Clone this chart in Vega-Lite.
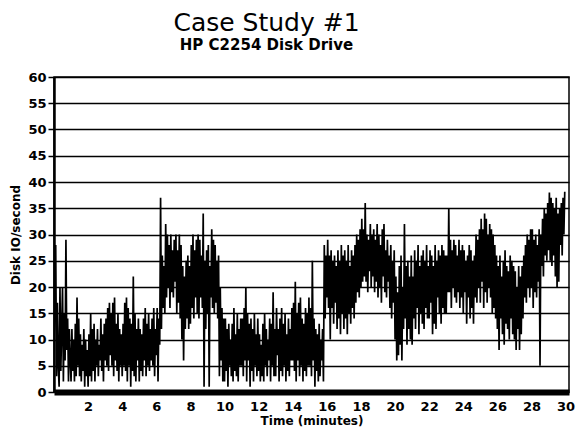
{
  "$schema": "https://vega.github.io/schema/vega-lite/v6.json",
  "width": 515,
  "height": 315,
  "autosize": {"type": "none"},
  "padding": {"left": 54, "top": 77, "right": 9, "bottom": 43},
  "background": "white",
  "title": {
    "text": "Case Study #1",
    "subtitle": "HP C2254 Disk Drive",
    "anchor": "middle",
    "dx": -45,
    "offset": 18,
    "font": "DejaVu Sans",
    "fontSize": 25,
    "fontWeight": "normal",
    "color": "black",
    "subtitleFont": "DejaVu Sans",
    "subtitleFontSize": 15,
    "subtitleFontWeight": "bold",
    "subtitleColor": "black",
    "subtitlePadding": 2
  },
  "config": {
    "view": {"stroke": "black", "strokeWidth": 1.5},
    "axis": {
      "labelFont": "DejaVu Sans",
      "labelFontWeight": "bold",
      "labelColor": "black",
      "titleFont": "DejaVu Sans",
      "titleFontWeight": "bold",
      "titleColor": "black"
    }
  },
  "data": {
    "values": [
      {"t":0.00,"v":10},{"t":0.05,"v":16},{"t":0.10,"v":28},{"t":0.15,"v":3},{"t":0.20,"v":17},{"t":0.25,"v":5},{"t":0.30,"v":1},{"t":0.35,"v":20},{"t":0.40,"v":4},{"t":0.45,"v":12},{"t":0.50,"v":20},{"t":0.55,"v":2},{"t":0.60,"v":15},{"t":0.65,"v":6},{"t":0.70,"v":29},{"t":0.75,"v":8},{"t":0.80,"v":14},{"t":0.85,"v":2},{"t":0.90,"v":12},{"t":0.95,"v":6},
      {"t":1.00,"v":2},{"t":1.05,"v":12},{"t":1.10,"v":4},{"t":1.15,"v":10},{"t":1.20,"v":2},{"t":1.25,"v":13},{"t":1.30,"v":3},{"t":1.35,"v":18},{"t":1.40,"v":5},{"t":1.45,"v":14},{"t":1.50,"v":3},{"t":1.55,"v":11},{"t":1.60,"v":2},{"t":1.65,"v":9},{"t":1.70,"v":4},{"t":1.75,"v":12},{"t":1.80,"v":1},{"t":1.85,"v":10},{"t":1.90,"v":3},{"t":1.95,"v":8},
      {"t":2.00,"v":1},{"t":2.05,"v":11},{"t":2.10,"v":3},{"t":2.15,"v":15},{"t":2.20,"v":2},{"t":2.25,"v":12},{"t":2.30,"v":4},{"t":2.35,"v":13},{"t":2.40,"v":2},{"t":2.45,"v":10},{"t":2.50,"v":5},{"t":2.55,"v":12},{"t":2.60,"v":3},{"t":2.65,"v":9},{"t":2.70,"v":6},{"t":2.75,"v":14},{"t":2.80,"v":4},{"t":2.85,"v":11},{"t":2.90,"v":2},{"t":2.95,"v":13},
      {"t":3.00,"v":6},{"t":3.05,"v":14},{"t":3.10,"v":5},{"t":3.15,"v":16},{"t":3.20,"v":4},{"t":3.25,"v":17},{"t":3.30,"v":7},{"t":3.35,"v":15},{"t":3.40,"v":5},{"t":3.45,"v":17},{"t":3.50,"v":3},{"t":3.55,"v":18},{"t":3.60,"v":6},{"t":3.65,"v":13},{"t":3.70,"v":4},{"t":3.75,"v":15},{"t":3.80,"v":2},{"t":3.85,"v":12},{"t":3.90,"v":5},{"t":3.95,"v":11},
      {"t":4.00,"v":3},{"t":4.05,"v":13},{"t":4.10,"v":5},{"t":4.15,"v":17},{"t":4.20,"v":4},{"t":4.25,"v":18},{"t":4.30,"v":2},{"t":4.35,"v":16},{"t":4.40,"v":5},{"t":4.45,"v":14},{"t":4.50,"v":1},{"t":4.55,"v":13},{"t":4.60,"v":4},{"t":4.65,"v":22},{"t":4.70,"v":3},{"t":4.75,"v":15},{"t":4.80,"v":2},{"t":4.85,"v":12},{"t":4.90,"v":6},{"t":4.95,"v":14},
      {"t":5.00,"v":2},{"t":5.05,"v":12},{"t":5.10,"v":4},{"t":5.15,"v":11},{"t":5.20,"v":3},{"t":5.25,"v":14},{"t":5.30,"v":6},{"t":5.35,"v":16},{"t":5.40,"v":3},{"t":5.45,"v":13},{"t":5.50,"v":5},{"t":5.55,"v":15},{"t":5.60,"v":4},{"t":5.65,"v":12},{"t":5.70,"v":6},{"t":5.75,"v":14},{"t":5.80,"v":5},{"t":5.85,"v":16},{"t":5.90,"v":3},{"t":5.95,"v":12},
      {"t":6.00,"v":7},{"t":6.05,"v":16},{"t":6.10,"v":2},{"t":6.15,"v":14},{"t":6.20,"v":9},{"t":6.25,"v":37},{"t":6.30,"v":12},{"t":6.35,"v":26},{"t":6.40,"v":16},{"t":6.45,"v":24},{"t":6.50,"v":15},{"t":6.55,"v":32},{"t":6.60,"v":18},{"t":6.65,"v":30},{"t":6.70,"v":20},{"t":6.75,"v":28},{"t":6.80,"v":16},{"t":6.85,"v":30},{"t":6.90,"v":19},{"t":6.95,"v":27},
      {"t":7.00,"v":18},{"t":7.05,"v":29},{"t":7.10,"v":21},{"t":7.15,"v":30},{"t":7.20,"v":15},{"t":7.25,"v":27},{"t":7.30,"v":17},{"t":7.35,"v":30},{"t":7.40,"v":14},{"t":7.45,"v":28},{"t":7.50,"v":10},{"t":7.55,"v":24},{"t":7.60,"v":6},{"t":7.65,"v":22},{"t":7.70,"v":12},{"t":7.75,"v":25},{"t":7.80,"v":14},{"t":7.85,"v":26},{"t":7.90,"v":12},{"t":7.95,"v":24},
      {"t":8.00,"v":13},{"t":8.05,"v":28},{"t":8.10,"v":16},{"t":8.15,"v":30},{"t":8.20,"v":14},{"t":8.25,"v":27},{"t":8.30,"v":18},{"t":8.35,"v":29},{"t":8.40,"v":15},{"t":8.45,"v":30},{"t":8.50,"v":14},{"t":8.55,"v":29},{"t":8.60,"v":18},{"t":8.65,"v":26},{"t":8.70,"v":16},{"t":8.75,"v":34},{"t":8.80,"v":1},{"t":8.85,"v":25},{"t":8.90,"v":12},{"t":8.95,"v":27},
      {"t":9.00,"v":15},{"t":9.05,"v":28},{"t":9.10,"v":1},{"t":9.15,"v":24},{"t":9.20,"v":18},{"t":9.25,"v":31},{"t":9.30,"v":16},{"t":9.35,"v":29},{"t":9.40,"v":15},{"t":9.45,"v":28},{"t":9.50,"v":17},{"t":9.55,"v":25},{"t":9.60,"v":14},{"t":9.65,"v":26},{"t":9.70,"v":3},{"t":9.75,"v":20},{"t":9.80,"v":6},{"t":9.85,"v":16},{"t":9.90,"v":2},{"t":9.95,"v":14},
      {"t":10.00,"v":2},{"t":10.05,"v":14},{"t":10.10,"v":4},{"t":10.15,"v":12},{"t":10.20,"v":1},{"t":10.25,"v":13},{"t":10.30,"v":5},{"t":10.35,"v":10},{"t":10.40,"v":3},{"t":10.45,"v":13},{"t":10.50,"v":2},{"t":10.55,"v":16},{"t":10.60,"v":4},{"t":10.65,"v":11},{"t":10.70,"v":3},{"t":10.75,"v":15},{"t":10.80,"v":2},{"t":10.85,"v":12},{"t":10.90,"v":5},{"t":10.95,"v":14},
      {"t":11.00,"v":5},{"t":11.05,"v":14},{"t":11.10,"v":3},{"t":11.15,"v":16},{"t":11.20,"v":6},{"t":11.25,"v":20},{"t":11.30,"v":2},{"t":11.35,"v":15},{"t":11.40,"v":6},{"t":11.45,"v":13},{"t":11.50,"v":1},{"t":11.55,"v":14},{"t":11.60,"v":4},{"t":11.65,"v":12},{"t":11.70,"v":2},{"t":11.75,"v":15},{"t":11.80,"v":5},{"t":11.85,"v":11},{"t":11.90,"v":3},{"t":11.95,"v":14},
      {"t":12.00,"v":4},{"t":12.05,"v":11},{"t":12.10,"v":2},{"t":12.15,"v":9},{"t":12.20,"v":3},{"t":12.25,"v":13},{"t":12.30,"v":2},{"t":12.35,"v":15},{"t":12.40,"v":5},{"t":12.45,"v":12},{"t":12.50,"v":3},{"t":12.55,"v":10},{"t":12.60,"v":6},{"t":12.65,"v":14},{"t":12.70,"v":2},{"t":12.75,"v":13},{"t":12.80,"v":5},{"t":12.85,"v":19},{"t":12.90,"v":3},{"t":12.95,"v":12},
      {"t":13.00,"v":3},{"t":13.05,"v":16},{"t":13.10,"v":7},{"t":13.15,"v":12},{"t":13.20,"v":2},{"t":13.25,"v":14},{"t":13.30,"v":4},{"t":13.35,"v":16},{"t":13.40,"v":3},{"t":13.45,"v":13},{"t":13.50,"v":5},{"t":13.55,"v":15},{"t":13.60,"v":2},{"t":13.65,"v":11},{"t":13.70,"v":4},{"t":13.75,"v":14},{"t":13.80,"v":3},{"t":13.85,"v":12},{"t":13.90,"v":6},{"t":13.95,"v":16},
      {"t":14.00,"v":6},{"t":14.05,"v":17},{"t":14.10,"v":4},{"t":14.15,"v":21},{"t":14.20,"v":2},{"t":14.25,"v":15},{"t":14.30,"v":6},{"t":14.35,"v":17},{"t":14.40,"v":3},{"t":14.45,"v":18},{"t":14.50,"v":5},{"t":14.55,"v":14},{"t":14.60,"v":2},{"t":14.65,"v":13},{"t":14.70,"v":4},{"t":14.75,"v":16},{"t":14.80,"v":3},{"t":14.85,"v":15},{"t":14.90,"v":5},{"t":14.95,"v":18},
      {"t":15.00,"v":5},{"t":15.05,"v":16},{"t":15.10,"v":3},{"t":15.15,"v":25},{"t":15.20,"v":6},{"t":15.25,"v":14},{"t":15.30,"v":1},{"t":15.35,"v":12},{"t":15.40,"v":4},{"t":15.45,"v":11},{"t":15.50,"v":2},{"t":15.55,"v":13},{"t":15.60,"v":3},{"t":15.65,"v":10},{"t":15.70,"v":6},{"t":15.75,"v":12},{"t":15.80,"v":2},{"t":15.85,"v":28},{"t":15.90,"v":14},{"t":15.95,"v":26},
      {"t":16.00,"v":18},{"t":16.05,"v":29},{"t":16.10,"v":16},{"t":16.15,"v":26},{"t":16.20,"v":10},{"t":16.25,"v":27},{"t":16.30,"v":16},{"t":16.35,"v":25},{"t":16.40,"v":13},{"t":16.45,"v":26},{"t":16.50,"v":17},{"t":16.55,"v":24},{"t":16.60,"v":12},{"t":16.65,"v":27},{"t":16.70,"v":14},{"t":16.75,"v":25},{"t":16.80,"v":11},{"t":16.85,"v":28},{"t":16.90,"v":15},{"t":16.95,"v":26},
      {"t":17.00,"v":12},{"t":17.05,"v":27},{"t":17.10,"v":14},{"t":17.15,"v":25},{"t":17.20,"v":11},{"t":17.25,"v":28},{"t":17.30,"v":15},{"t":17.35,"v":24},{"t":17.40,"v":13},{"t":17.45,"v":27},{"t":17.50,"v":16},{"t":17.55,"v":26},{"t":17.60,"v":14},{"t":17.65,"v":28},{"t":17.70,"v":17},{"t":17.75,"v":30},{"t":17.80,"v":19},{"t":17.85,"v":29},{"t":17.90,"v":18},{"t":17.95,"v":31},
      {"t":18.00,"v":20},{"t":18.05,"v":33},{"t":18.10,"v":21},{"t":18.15,"v":31},{"t":18.20,"v":22},{"t":18.25,"v":36},{"t":18.30,"v":21},{"t":18.35,"v":30},{"t":18.40,"v":19},{"t":18.45,"v":29},{"t":18.50,"v":23},{"t":18.55,"v":32},{"t":18.60,"v":20},{"t":18.65,"v":30},{"t":18.70,"v":22},{"t":18.75,"v":31},{"t":18.80,"v":19},{"t":18.85,"v":29},{"t":18.90,"v":21},{"t":18.95,"v":32},
      {"t":19.00,"v":18},{"t":19.05,"v":30},{"t":19.10,"v":20},{"t":19.15,"v":28},{"t":19.20,"v":17},{"t":19.25,"v":31},{"t":19.30,"v":22},{"t":19.35,"v":32},{"t":19.40,"v":19},{"t":19.45,"v":27},{"t":19.50,"v":18},{"t":19.55,"v":29},{"t":19.60,"v":21},{"t":19.65,"v":26},{"t":19.70,"v":16},{"t":19.75,"v":28},{"t":19.80,"v":14},{"t":19.85,"v":25},{"t":19.90,"v":17},{"t":19.95,"v":27},
      {"t":20.00,"v":10},{"t":20.05,"v":22},{"t":20.10,"v":6},{"t":20.15,"v":19},{"t":20.20,"v":7},{"t":20.25,"v":24},{"t":20.30,"v":9},{"t":20.35,"v":26},{"t":20.40,"v":6},{"t":20.45,"v":20},{"t":20.50,"v":12},{"t":20.55,"v":32},{"t":20.60,"v":14},{"t":20.65,"v":24},{"t":20.70,"v":9},{"t":20.75,"v":25},{"t":20.80,"v":12},{"t":20.85,"v":22},{"t":20.90,"v":10},{"t":20.95,"v":26},
      {"t":21.00,"v":9},{"t":21.05,"v":22},{"t":21.10,"v":14},{"t":21.15,"v":27},{"t":21.20,"v":12},{"t":21.25,"v":25},{"t":21.30,"v":16},{"t":21.35,"v":28},{"t":21.40,"v":11},{"t":21.45,"v":24},{"t":21.50,"v":15},{"t":21.55,"v":26},{"t":21.60,"v":13},{"t":21.65,"v":27},{"t":21.70,"v":12},{"t":21.75,"v":25},{"t":21.80,"v":16},{"t":21.85,"v":28},{"t":21.90,"v":14},{"t":21.95,"v":24},
      {"t":22.00,"v":14},{"t":22.05,"v":27},{"t":22.10,"v":17},{"t":22.15,"v":26},{"t":22.20,"v":11},{"t":22.25,"v":24},{"t":22.30,"v":13},{"t":22.35,"v":28},{"t":22.40,"v":12},{"t":22.45,"v":25},{"t":22.50,"v":18},{"t":22.55,"v":27},{"t":22.60,"v":15},{"t":22.65,"v":26},{"t":22.70,"v":13},{"t":22.75,"v":28},{"t":22.80,"v":16},{"t":22.85,"v":27},{"t":22.90,"v":15},{"t":22.95,"v":26},
      {"t":23.00,"v":15},{"t":23.05,"v":26},{"t":23.10,"v":19},{"t":23.15,"v":35},{"t":23.20,"v":19},{"t":23.25,"v":29},{"t":23.30,"v":16},{"t":23.35,"v":27},{"t":23.40,"v":20},{"t":23.45,"v":29},{"t":23.50,"v":18},{"t":23.55,"v":28},{"t":23.60,"v":17},{"t":23.65,"v":26},{"t":23.70,"v":19},{"t":23.75,"v":29},{"t":23.80,"v":16},{"t":23.85,"v":27},{"t":23.90,"v":18},{"t":23.95,"v":28},
      {"t":24.00,"v":15},{"t":24.05,"v":27},{"t":24.10,"v":19},{"t":24.15,"v":25},{"t":24.20,"v":13},{"t":24.25,"v":26},{"t":24.30,"v":18},{"t":24.35,"v":28},{"t":24.40,"v":14},{"t":24.45,"v":27},{"t":24.50,"v":16},{"t":24.55,"v":25},{"t":24.60,"v":13},{"t":24.65,"v":26},{"t":24.70,"v":18},{"t":24.75,"v":30},{"t":24.80,"v":17},{"t":24.85,"v":29},{"t":24.90,"v":20},{"t":24.95,"v":31},
      {"t":25.00,"v":17},{"t":25.05,"v":33},{"t":25.10,"v":21},{"t":25.15,"v":31},{"t":25.20,"v":16},{"t":25.25,"v":34},{"t":25.30,"v":19},{"t":25.35,"v":33},{"t":25.40,"v":17},{"t":25.45,"v":30},{"t":25.50,"v":20},{"t":25.55,"v":32},{"t":25.60,"v":18},{"t":25.65,"v":31},{"t":25.70,"v":15},{"t":25.75,"v":30},{"t":25.80,"v":16},{"t":25.85,"v":28},{"t":25.90,"v":14},{"t":25.95,"v":26},
      {"t":26.00,"v":12},{"t":26.05,"v":24},{"t":26.10,"v":8},{"t":26.15,"v":26},{"t":26.20,"v":14},{"t":26.25,"v":22},{"t":26.30,"v":11},{"t":26.35,"v":25},{"t":26.40,"v":9},{"t":26.45,"v":27},{"t":26.50,"v":13},{"t":26.55,"v":24},{"t":26.60,"v":12},{"t":26.65,"v":23},{"t":26.70,"v":10},{"t":26.75,"v":26},{"t":26.80,"v":14},{"t":26.85,"v":25},{"t":26.90,"v":11},{"t":26.95,"v":24},
      {"t":27.00,"v":10},{"t":27.05,"v":23},{"t":27.10,"v":8},{"t":27.15,"v":20},{"t":27.20,"v":12},{"t":27.25,"v":24},{"t":27.30,"v":8},{"t":27.35,"v":22},{"t":27.40,"v":11},{"t":27.45,"v":24},{"t":27.50,"v":14},{"t":27.55,"v":26},{"t":27.60,"v":18},{"t":27.65,"v":28},{"t":27.70,"v":17},{"t":27.75,"v":30},{"t":27.80,"v":20},{"t":27.85,"v":29},{"t":27.90,"v":18},{"t":27.95,"v":31},
      {"t":28.00,"v":20},{"t":28.05,"v":31},{"t":28.10,"v":16},{"t":28.15,"v":29},{"t":28.20,"v":19},{"t":28.25,"v":30},{"t":28.30,"v":18},{"t":28.35,"v":28},{"t":28.40,"v":21},{"t":28.45,"v":31},{"t":28.50,"v":5},{"t":28.55,"v":30},{"t":28.60,"v":24},{"t":28.65,"v":33},{"t":28.70,"v":22},{"t":28.75,"v":35},{"t":28.80,"v":26},{"t":28.85,"v":34},{"t":28.90,"v":25},{"t":28.95,"v":36},
      {"t":29.00,"v":27},{"t":29.05,"v":38},{"t":29.10,"v":25},{"t":29.15,"v":37},{"t":29.20,"v":24},{"t":29.25,"v":36},{"t":29.30,"v":26},{"t":29.35,"v":35},{"t":29.40,"v":22},{"t":29.45,"v":37},{"t":29.50,"v":20},{"t":29.55,"v":34},{"t":29.60,"v":21},{"t":29.65,"v":35},{"t":29.70,"v":28},{"t":29.75,"v":36},{"t":29.80,"v":26},{"t":29.85,"v":37},{"t":29.90,"v":30},{"t":29.95,"v":38},{"t":30.00,"v":38}
    ]
  },
  "mark": {"type": "line", "color": "black", "strokeWidth": 1.7, "clip": true},
  "encoding": {
    "x": {
      "field": "t",
      "type": "quantitative",
      "scale": {"domain": [0, 30.2], "nice": false, "zero": false},
      "axis": {
        "title": "Time (minutes)",
        "titleFontSize": 12,
        "titlePadding": 2,
        "values": [2,4,6,8,10,12,14,16,18,20,22,24,26,28,30],
        "labelFontSize": 13,
        "labelPadding": 8,
        "ticks": false,
        "grid": false,
        "domainColor": "black",
        "domainWidth": 6
      }
    },
    "y": {
      "field": "v",
      "type": "quantitative",
      "scale": {"domain": [0, 60], "nice": false},
      "axis": {
        "title": "Disk IO/second",
        "titleFontSize": 12,
        "titlePadding": 5,
        "values": [0,5,10,15,20,25,30,35,40,45,50,55,60],
        "labelFontSize": 13,
        "labelPadding": 2,
        "ticks": true,
        "tickSize": 6,
        "tickColor": "black",
        "tickWidth": 1.5,
        "grid": true,
        "gridColor": "black",
        "gridWidth": 1.5,
        "gridOpacity": 1,
        "domainColor": "black",
        "domainWidth": 2.5
      }
    }
  }
}
